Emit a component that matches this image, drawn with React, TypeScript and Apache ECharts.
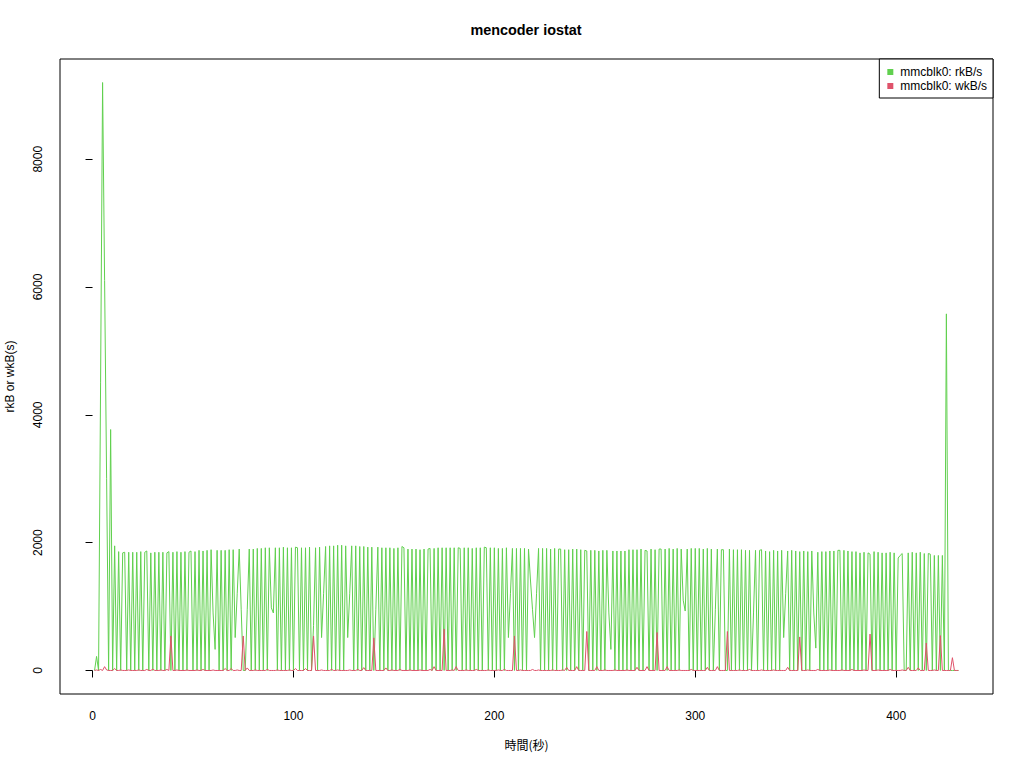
import React, { useEffect, useRef } from "react";
import * as echarts from "echarts";

const title = "mencoder iostat";
const xName = "時間(秒)";
const yName = "rkB or wkB(s)";
const seriesNames = ["mmcblk0: rkB/s", "mmcblk0: wkB/s"];
const xTicks = [0, 100, 200, 300, 400];
const yTicks = [0, 2000, 4000, 6000, 8000];

// mmcblk0 rkB/s, one value per second (t = 1..431)
const rkB = [
  0, 220, 0, 4500, 9200, 6100, 3000, 0, 3770, 0,
  1950, 0, 1860, 0, 1840, 1850, 0, 1850, 0, 1850,
  0, 1850, 0, 1860, 0, 1850, 1870, 0, 1840, 0,
  1850, 0, 1850, 0, 1850, 0, 1840, 1860, 0, 1850,
  0, 1860, 0, 1850, 0, 1860, 0, 1850, 1870, 0,
  1860, 0, 1880, 0, 1870, 0, 1880, 0, 1890, 900,
  330, 1880, 0, 1880, 0, 1880, 0, 1890, 0, 1890,
  515, 1200, 1900, 950, 0, 0, 950, 1900, 0, 1900,
  0, 1910, 0, 1910, 0, 1920, 0, 1920, 980, 900,
  1920, 0, 1920, 0, 1930, 0, 1920, 0, 1920, 0,
  1930, 1920, 0, 1920, 0, 1920, 0, 1930, 0, 700,
  1920, 0, 1930, 515, 1200, 1940, 0, 1950, 0, 1950,
  0, 1960, 0, 1960, 0, 1950, 515, 1200, 1950, 0,
  1950, 0, 1940, 0, 1940, 0, 1930, 0, 1930, 0,
  950, 1930, 0, 1920, 0, 1920, 0, 1920, 0, 1910,
  0, 1920, 0, 1940, 1920, 0, 1900, 0, 1900, 0,
  1900, 0, 1890, 0, 1900, 0, 1900, 1910, 0, 1910,
  0, 1920, 0, 1920, 0, 1920, 0, 1920, 0, 1920,
  0, 1920, 1910, 0, 1920, 0, 1920, 0, 1910, 0,
  1920, 0, 1920, 0, 1930, 1920, 0, 1920, 0, 1920,
  0, 1910, 0, 1910, 0, 1920, 515, 1200, 1910, 0,
  1910, 0, 1910, 0, 1910, 0, 1900, 1400, 950, 515,
  1200, 1910, 0, 1910, 0, 1910, 0, 1900, 0, 1910,
  0, 1900, 1900, 0, 1890, 0, 1890, 0, 1900, 0,
  1900, 0, 1890, 0, 1880, 1870, 0, 1880, 0, 1880,
  0, 1870, 0, 1880, 0, 1880, 900, 330, 1870, 0,
  1870, 0, 1870, 0, 1870, 0, 1890, 0, 1890, 0,
  1890, 0, 1900, 0, 1880, 1870, 0, 1900, 0, 1890,
  0, 1900, 1900, 0, 1900, 0, 1910, 0, 1900, 0,
  1910, 0, 1900, 1100, 930, 1900, 0, 1910, 0, 1910,
  0, 1910, 0, 1900, 0, 1910, 0, 1900, 0, 950,
  1900, 0, 1890, 1890, 0, 0, 1900, 0, 1890, 0,
  1890, 0, 1890, 0, 1880, 0, 1880, 0, 900, 1880,
  0, 1880, 1890, 0, 1870, 0, 1860, 0, 1880, 0,
  1870, 0, 1880, 515, 1200, 1870, 0, 1880, 0, 1870,
  0, 1860, 0, 1870, 0, 1860, 0, 1870, 900, 350,
  1850, 0, 1860, 0, 1860, 0, 1870, 0, 1870, 0,
  1880, 1880, 0, 1880, 0, 1870, 0, 1860, 0, 1860,
  0, 1840, 0, 1850, 0, 1840, 1820, 0, 1860, 0,
  1850, 0, 1840, 0, 1840, 0, 1850, 0, 1840, 0,
  1760, 1800, 1830, 0, 0, 1840, 0, 1850, 0, 1840,
  0, 1850, 0, 1830, 0, 1830, 1820, 0, 1800, 0,
  1800, 0, 1800, 0, 5580, 0, 0, 0, 0, 0,
  0,
];

// mmcblk0 wkB/s, one value per second (t = 1..431)
const wkB = [
  0, 8, 0, 16, 0, 60, 8, 0, 0, 0,
  30, 0, 0, 8, 0, 0, 0, 8, 0, 0,
  0, 0, 8, 0, 0, 0, 16, 0, 0, 20,
  0, 0, 0, 8, 0, 0, 16, 0, 540, 0,
  0, 8, 0, 0, 0, 0, 8, 0, 0, 0,
  0, 8, 0, 0, 16, 0, 0, 0, 0, 8,
  0, 0, 0, 0, 0, 30, 0, 0, 30, 0,
  0, 8, 0, 0, 540, 0, 40, 0, 0, 0,
  8, 0, 0, 0, 0, 0, 16, 0, 0, 0,
  0, 8, 0, 0, 0, 0, 0, 8, 0, 0,
  30, 0, 0, 0, 0, 30, 0, 0, 0, 540,
  0, 0, 0, 8, 0, 0, 0, 0, 16, 0,
  0, 8, 0, 0, 0, 0, 0, 8, 0, 0,
  0, 16, 0, 0, 45, 0, 0, 0, 0, 510,
  0, 0, 0, 0, 0, 40, 0, 0, 8, 0,
  0, 0, 16, 0, 0, 0, 0, 8, 0, 0,
  0, 0, 8, 0, 0, 0, 0, 16, 0, 60,
  0, 0, 0, 0, 650, 0, 0, 0, 8, 0,
  60, 0, 0, 0, 0, 8, 0, 0, 0, 0,
  16, 0, 0, 0, 0, 0, 8, 0, 0, 0,
  0, 8, 0, 0, 16, 0, 0, 0, 0, 540,
  0, 0, 8, 0, 0, 0, 0, 0, 16, 0,
  0, 8, 0, 0, 0, 0, 0, 0, 8, 0,
  0, 0, 0, 8, 0, 50, 0, 0, 0, 0,
  60, 0, 0, 0, 0, 610, 0, 0, 0, 0,
  60, 0, 0, 0, 8, 0, 0, 0, 0, 8,
  0, 0, 0, 0, 0, 8, 0, 0, 0, 0,
  50, 0, 0, 0, 0, 60, 0, 0, 0, 0,
  595, 0, 0, 0, 0, 60, 0, 0, 0, 0,
  0, 8, 0, 0, 0, 0, 0, 16, 0, 0,
  0, 0, 0, 0, 0, 50, 0, 0, 0, 0,
  60, 0, 0, 0, 0, 610, 0, 0, 0, 0,
  0, 8, 0, 0, 0, 0, 16, 0, 0, 0,
  0, 0, 8, 0, 0, 0, 0, 0, 8, 0,
  0, 0, 0, 0, 0, 50, 0, 0, 0, 0,
  0, 525, 0, 0, 0, 8, 0, 0, 0, 0,
  16, 0, 0, 0, 0, 0, 8, 0, 0, 0,
  0, 0, 8, 0, 0, 0, 0, 16, 0, 0,
  0, 0, 0, 8, 0, 0, 570, 0, 0, 0,
  8, 0, 0, 0, 0, 0, 16, 0, 0, 0,
  0, 0, 8, 0, 0, 50, 0, 0, 0, 0,
  40, 0, 0, 0, 430, 0, 0, 0, 8, 0,
  0, 545, 0, 0, 0, 0, 0, 200, 0, 0,
  0,
];

const FONT = "'Liberation Sans', Arial, Helvetica, sans-serif";

export default function App() {
  const ref = useRef<HTMLDivElement>(null);

  useEffect(() => {
    if (!ref.current) return;
    const chart = echarts.init(ref.current, null, { renderer: "svg" });

    const n = rkB.length;
    const xMin = 1 - 0.04 * (n - 1);
    const xMax = n + 0.04 * (n - 1);
    const allY = rkB.concat(wkB);
    const yLo = Math.min(...allY);
    const yHi = Math.max(...allY);
    const yMin = yLo - 0.04 * (yHi - yLo);
    const yMax = yHi + 0.04 * (yHi - yLo);

    const rData = rkB.map((v, i) => [i + 1, v]);
    const wData = wkB.map((v, i) => [i + 1, v]);

    chart.setOption({
      animation: false,
      backgroundColor: "#ffffff",
      title: {
        text: title,
        left: 526,
        top: 23,
        padding: 0,
        textAlign: "center",
        textStyle: { fontFamily: FONT, fontSize: 14.4, fontWeight: "bold", color: "#000" },
      },
      legend: {
        data: seriesNames,
        orient: "vertical",
        right: 31,
        top: 59,
        icon: "rect",
        itemWidth: 6,
        itemHeight: 6,
        itemGap: 2,
        padding: [7, 6, 6, 8],
        borderColor: "#000",
        borderWidth: 1,
        backgroundColor: "#fff",
        textStyle: { fontFamily: FONT, fontSize: 12, color: "#000", padding: [0, 0, 0, 2] },
      },
      grid: {
        left: 60,
        right: 31,
        top: 59,
        bottom: 74,
        show: true,
        borderColor: "#000",
        borderWidth: 1,
        backgroundColor: "transparent",
        outerBoundsMode: "none",
      },
      xAxis: {
        type: "value",
        min: xMin,
        max: xMax,
        name: xName,
        nameLocation: "middle",
        nameGap: 44,
        nameTextStyle: { fontFamily: "'Noto Sans CJK JP', sans-serif", fontSize: 12, color: "#000" },
        axisLine: { show: false },
        axisTick: { show: true, inside: false, length: 7, customValues: xTicks, lineStyle: { color: "#000" } },
        axisLabel: {
          customValues: xTicks,
          margin: 16,
          fontFamily: FONT,
          fontSize: 12,
          color: "#000",
          formatter: (v: number) => String(v),
        },
        splitLine: { show: false },
      },
      yAxis: {
        type: "value",
        min: yMin,
        max: yMax,
        name: yName,
        nameLocation: "middle",
        nameGap: 44,
        nameTextStyle: { fontFamily: FONT, fontSize: 12, color: "#000" },
        axisLine: { show: false },
        axisTick: { show: true, inside: false, length: 7, customValues: yTicks, lineStyle: { color: "#000" } },
        axisLabel: {
          customValues: yTicks,
          rotate: 90,
          margin: 16,
          fontFamily: FONT,
          fontSize: 12,
          color: "#000",
          formatter: (v: number) => String(v),
        },
        splitLine: { show: false },
      },
      series: [
        {
          name: seriesNames[0],
          type: "line",
          data: rData,
          showSymbol: false,
          symbol: "none",
          color: "#61D04F",
          lineStyle: { width: 1, color: "#61D04F" },
          z: 2,
        },
        {
          name: seriesNames[1],
          type: "line",
          data: wData,
          showSymbol: false,
          symbol: "none",
          color: "#DF536B",
          lineStyle: { width: 1, color: "#DF536B" },
          z: 3,
        },
      ],
    });

    return () => chart.dispose();
  }, []);

  return (
    <div
      ref={ref}
      style={{ position: "fixed", left: 0, top: 0, width: 1024, height: 768, background: "#fff" }}
    />
  );
}
